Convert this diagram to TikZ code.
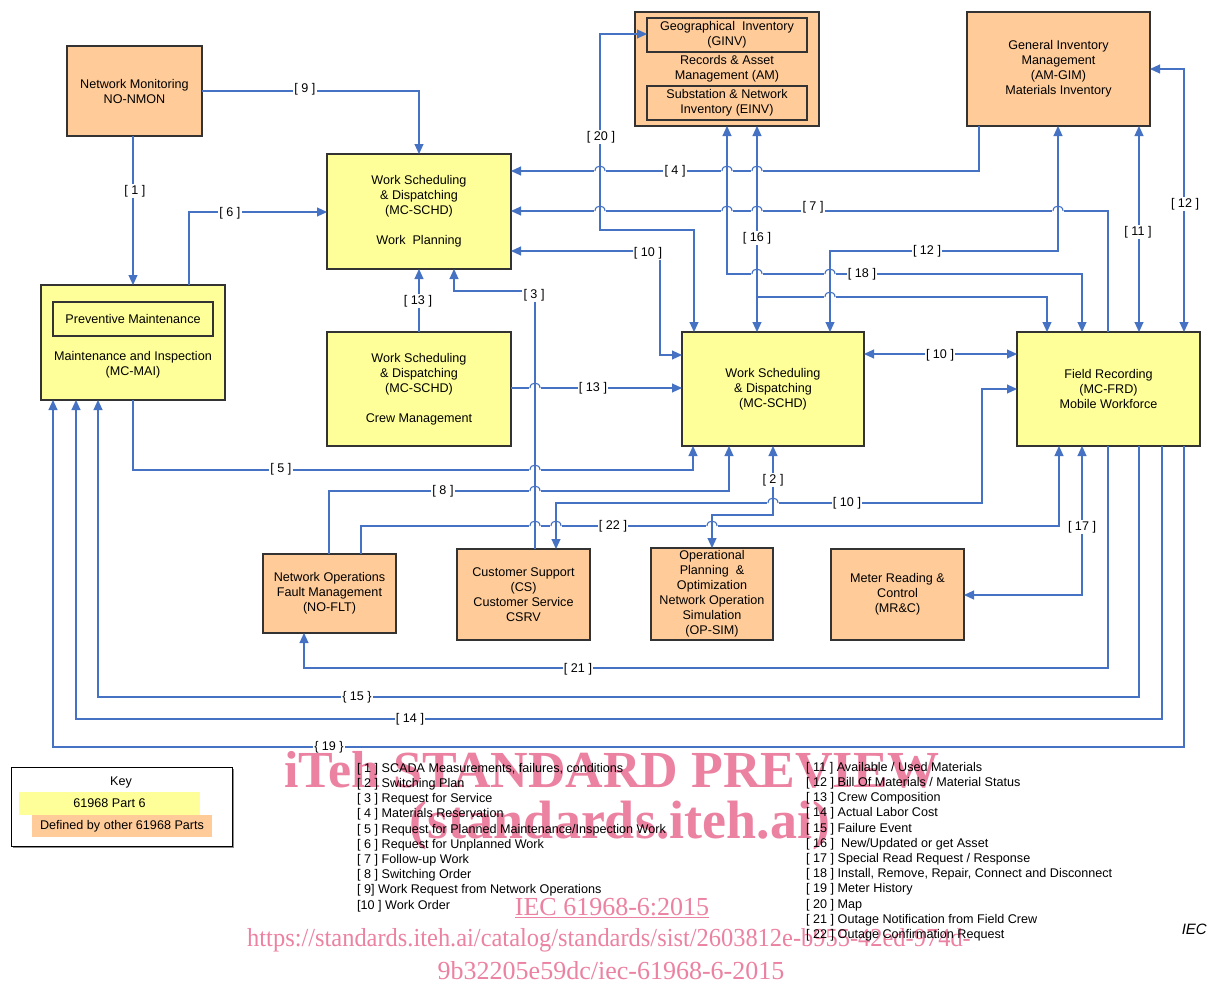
\documentclass[tikz,border=0pt]{standalone}
\usepackage{fontspec}
\setmainfont{Liberation Sans}
\newfontfamily\wmfont{Liberation Serif}
\usetikzlibrary{arrows.meta}
\definecolor{ylw}{RGB}{255,255,153}
\definecolor{org}{RGB}{255,204,153}
\definecolor{cblue}{RGB}{70,114,196}
\definecolor{wmpink}{RGB}{236,130,162}
\newcommand\hopx[2]{%
  \fill[white] ({#1-5.6},{#2-1.5}) rectangle ({#1+5.6},{#2+1.5});
  \draw[conn] (#1,{#2-2.5}) -- (#1,{#2+2.5});
  \draw[conn] ({#1-5},#2) .. controls ({#1-5},{#2-6.6}) and ({#1+5},{#2-6.6}) .. ({#1+5},#2);}
\tikzset{
  base/.style={font=\fontsize{12.6}{15}\selectfont},
  box/.style={draw=black!80, line width=1.2pt, inner sep=0pt, outer sep=0pt, align=center, base},
  ybox/.style={box, fill=ylw},
  obox/.style={box, fill=org},
  conn/.style={draw=cblue, line width=1.1pt},
  arr/.style={conn, -{Triangle[length=10pt,width=9pt]}},
  darr/.style={conn, {Triangle[length=10pt,width=9pt]}-{Triangle[length=10pt,width=9pt]}},
  lbl/.style={fill=white, inner sep=1.2pt, base},
  leg/.style={anchor=west, inner sep=0pt, base},
  wm/.style={text=wmpink, inner sep=0pt},
}
\begin{document}
\begin{tikzpicture}[x=1pt,y=-1pt]
\useasboundingbox (0,0) rectangle (1208,985);
\fill[white] (0,0) rectangle (1208,985);

% ---------- boxes ----------
\node[obox, minimum width=135pt, minimum height=90pt] (nmon) at (134.5,91) {Network Monitoring\\NO-NMON};
\node[ybox, minimum width=184pt, minimum height=115pt] (wp) at (419,211.5) {Work Scheduling\\\& Dispatching\\(MC-SCHD)\\[15pt]Work~ Planning};
\node[ybox, minimum width=184pt, minimum height=115pt] (mai) at (133,342.5) {};
\node[ybox, minimum width=160pt, minimum height=34pt] (pm) at (133,319) {Preventive Maintenance};
\node[base, align=center, inner sep=0pt] (maitxt) at (133,365) {Maintenance and Inspection\\(MC-MAI)};
\node[ybox, minimum width=184pt, minimum height=114pt] (cm) at (419,389) {Work Scheduling\\\& Dispatching\\(MC-SCHD)\\[15pt]Crew Management};
\node[obox, minimum width=184pt, minimum height=114pt] (am) at (727,69) {};
\node[obox, minimum width=160pt, minimum height=34pt] (ginv) at (727,35) {Geographical~ Inventory\\(GINV)};
\node[base, align=center, inner sep=0pt] (amtxt) at (727,68.5) {Records \& Asset\\Management (AM)};
\node[obox, minimum width=160pt, minimum height=34pt] (einv) at (727,103) {Substation \& Network\\Inventory (EINV)};
\node[obox, minimum width=183pt, minimum height=114pt] (gim) at (1058.5,69) {General Inventory\\Management\\(AM-GIM)\\Materials Inventory};
\node[ybox, minimum width=182pt, minimum height=114pt] (schd) at (773,389) {Work Scheduling\\\& Dispatching\\(MC-SCHD)};
\node[ybox, minimum width=183pt, minimum height=114pt] (frd) at (1108.5,389) {Field Recording\\(MC-FRD)\\Mobile Workforce};
\node[obox, minimum width=133pt, minimum height=79pt] (flt) at (329.5,593.5) {Network Operations\\Fault Management\\(NO-FLT)};
\node[obox, minimum width=133pt, minimum height=91pt] (cs) at (523.5,594.5) {Customer Support\\(CS)\\Customer Service\\CSRV};
\node[obox, minimum width=122pt, minimum height=92pt] (opsim) at (712,594) {Operational\\Planning~ \&\\Optimization\\Network Operation\\Simulation\\(OP-SIM)};
\node[obox, minimum width=133pt, minimum height=91pt] (mrc) at (897.5,594.5) {Meter Reading \&\\Control\\(MR\&C)};

% ---------- connectors ----------
\draw[arr] (nmon.east) -- (419,0 |- nmon.east) -- (419,0 |- wp.north);
\draw[arr] (133,0 |- nmon.south) -- (133,0 |- mai.north);
\draw[arr] (189,0 |- mai.north) -- (189,212) -- (wp.west |- 0,212);
\draw[arr] (419,0 |- cm.north) -- (419,0 |- wp.south);
\draw[arr] (535,0 |- cs.north) -- (535,291) -- (454,291) -- (454,0 |- wp.south);
\draw[arr] (cm.east |- 0,388) -- (schd.west |- 0,388);
\draw[arr] (979,0 |- gim.south) -- (979,171) -- (wp.east |- 0,171);
\draw[darr] (ginv.west |- 0,34) -- (600,34) -- (600,230) -- (694,230) -- (694,0 |- schd.north);
\draw[arr] (1108,0 |- frd.north) -- (1108,211) -- (wp.east |- 0,211);
\draw[darr] (wp.east |- 0,251) -- (660,251) -- (660,355) -- (schd.west |- 0,355);
\draw[darr] (757,0 |- am.south) -- (757,0 |- schd.north);
\draw[arr] (757,297) -- (1047,297) -- (1047,0 |- frd.north);
\draw[darr] (727,0 |- am.south) -- (727,274) -- (1082,274) -- (1082,0 |- frd.north);
\draw[darr] (1058,0 |- gim.south) -- (1058,251) -- (830,251) -- (830,0 |- schd.north);
\draw[darr] (1139,0 |- gim.south) -- (1139,0 |- frd.north);
\draw[darr] (gim.east |- 0,69) -- (1184,69) -- (1184,0 |- frd.north);
\draw[darr] (schd.east |- 0,354) -- (frd.west |- 0,354);
\draw[darr] (frd.west |- 0,389) -- (982,389) -- (982,503) -- (556,503) -- (556,0 |- cs.north);
\draw[darr] (773,0 |- schd.south) -- (773,515) -- (712,515) -- (712,0 |- opsim.north);
\draw[arr] (361,0 |- flt.north) -- (361,526) -- (1059,526) -- (1059,0 |- frd.south);
\draw[arr] (329,0 |- flt.north) -- (329,491) -- (729,491) -- (729,0 |- schd.south);
\draw[arr] (133,0 |- mai.south) -- (133,470) -- (693,470) -- (693,0 |- schd.south);
\draw[darr] (1082,0 |- frd.south) -- (1082,595) -- (mrc.east |- 0,595);
\draw[arr] (1108,0 |- frd.south) -- (1108,668) -- (304,668) -- (304,0 |- flt.south);
\draw[arr] (1139,0 |- frd.south) -- (1139,697) -- (98,697) -- (98,0 |- mai.south);
\draw[arr] (1162,0 |- frd.south) -- (1162,719) -- (76,719) -- (76,0 |- mai.south);
\draw[arr] (1184,0 |- frd.south) -- (1184,747) -- (53,747) -- (53,0 |- mai.south);

% ---------- line hops ----------
\hopx{600}{171}\hopx{727}{171}\hopx{757}{171}
\hopx{600}{211}\hopx{727}{211}\hopx{757}{211}\hopx{1058}{211}
\hopx{757}{274}\hopx{830}{274}
\hopx{830}{297}
\hopx{535}{388}
\hopx{535}{470}
\hopx{535}{491}
\hopx{773}{503}
\hopx{535}{526}\hopx{556}{526}\hopx{712}{526}

% ---------- connector labels ----------
\node[lbl] (l9) at (305,89) {[ 9 ]};
\node[lbl] (l1) at (135,191) {[ 1 ]};
\node[lbl] (l6) at (230,213) {[ 6 ]};
\node[lbl] (l13a) at (418,301) {[ 13 ]};
\node[lbl] (l3) at (534,295) {[ 3 ]};
\node[lbl] (l20) at (601,137) {[ 20 ]};
\node[lbl] (l4) at (675,171) {[ 4 ]};
\node[lbl] (l7) at (813,207) {[ 7 ]};
\node[lbl] (l16) at (757,238) {[ 16 ]};
\node[lbl] (l10a) at (648,253) {[ 10 ]};
\node[lbl] (l12a) at (927,251) {[ 12 ]};
\node[lbl] (l18) at (862,274) {[ 18 ]};
\node[lbl] (l11) at (1138,232) {[ 11 ]};
\node[lbl] (l12b) at (1185,204) {[ 12 ]};
\node[lbl] (l13b) at (593,388) {[ 13 ]};
\node[lbl] (l10b) at (940,355) {[ 10 ]};
\node[lbl] (l5) at (281,469) {[ 5 ]};
\node[lbl] (l8) at (443,491) {[ 8 ]};
\node[lbl] (l2) at (773,480) {[ 2 ]};
\node[lbl] (l10c) at (847,503) {[ 10 ]};
\node[lbl] (l22) at (613,526) {[ 22 ]};
\node[lbl] (l17) at (1082,527) {[ 17 ]};
\node[lbl] (l21) at (578,669) {[ 21 ]};
\node[lbl] (l15) at (357,697) {\{ 15 \}};
\node[lbl] (l14) at (410,719) {[ 14 ]};
\node[lbl] (l19) at (329,747) {\{ 19 \}};

% ---------- key ----------
\draw[black!45, line width=2pt] (13,847) -- (233,847) -- (233,769);
\node[draw=black, line width=1pt, fill=white, minimum width=221pt, minimum height=79pt, inner sep=0pt] (key) at (121.5,806.5) {};
\node[base, inner sep=0pt] (keyt) at (121,782) {Key};
\node[fill=ylw, minimum width=181pt, minimum height=23pt, inner sep=0pt, base] (k6) at (109.5,803.5) {61968 Part 6};
\node[fill=org, minimum width=180pt, minimum height=22pt, inner sep=0pt, base] (ko) at (122,826) {Defined by other 61968 Parts};

% ---------- watermark ----------
\node[wm, font=\wmfont\bfseries\fontsize{52}{52}\selectfont] (wm1) at (612,770) {iTeh STANDARD PREVIEW};
\node[wm, font=\wmfont\bfseries\fontsize{54}{54}\selectfont] (wm2) at (620,826) {(standards.iteh.ai)};
\node[wm, font=\wmfont\fontsize{26}{26}\selectfont] (wm3) at (612,908) {\underline{IEC 61968-6:2015}};
\node[wm, font=\wmfont\fontsize{26}{26}\selectfont, xscale=0.94] (wm4) at (609,940) {https://standards.iteh.ai/catalog/standards/sist/2603812e-b955-42ed-974d-};
\node[wm, font=\wmfont\fontsize{26}{26}\selectfont] (wm5) at (611,971) {9b32205e59dc/iec-61968-6-2015};

% ---------- legend ----------
\foreach \t [count=\i] in {{[ 1 ] SCADA Measurements, failures, conditions},{[ 2 ] Switching Plan},{[ 3 ] Request for Service},{[ 4 ] Materials Reservation},{[ 5 ] Request for Planned Maintenance/Inspection Work},{[ 6 ] Request for Unplanned Work},{[ 7 ] Follow-up Work},{[ 8 ] Switching Order},{[ 9] Work Request from Network Operations},{[10 ] Work Order}}
  \node[leg] (la\i) at (357,{769+(\i-1)*15.2}) {\t};
\foreach \t [count=\i] in {{[ 11 ] Available / Used Materials},{[ 12 ] Bill Of Materials / Material Status},{[ 13 ] Crew Composition},{[ 14 ] Actual Labor Cost},{[ 15 ] Failure Event},{[ 16 ]~ New/Updated or get Asset},{[ 17 ] Special Read Request / Response},{[ 18 ] Install, Remove, Repair, Connect and Disconnect},{[ 19 ] Meter History},{[ 20 ] Map},{[ 21 ] Outage Notification from Field Crew},{[ 22 ] Outage Confirmation Request}}
  \node[leg] (lb\i) at (806,{768+(\i-1)*15.2}) {\t};
\node[anchor=east, inner sep=0pt, font=\fontsize{15}{18}\selectfont\itshape] (iec) at (1207,929) {IEC};
\end{tikzpicture}
\end{document}
